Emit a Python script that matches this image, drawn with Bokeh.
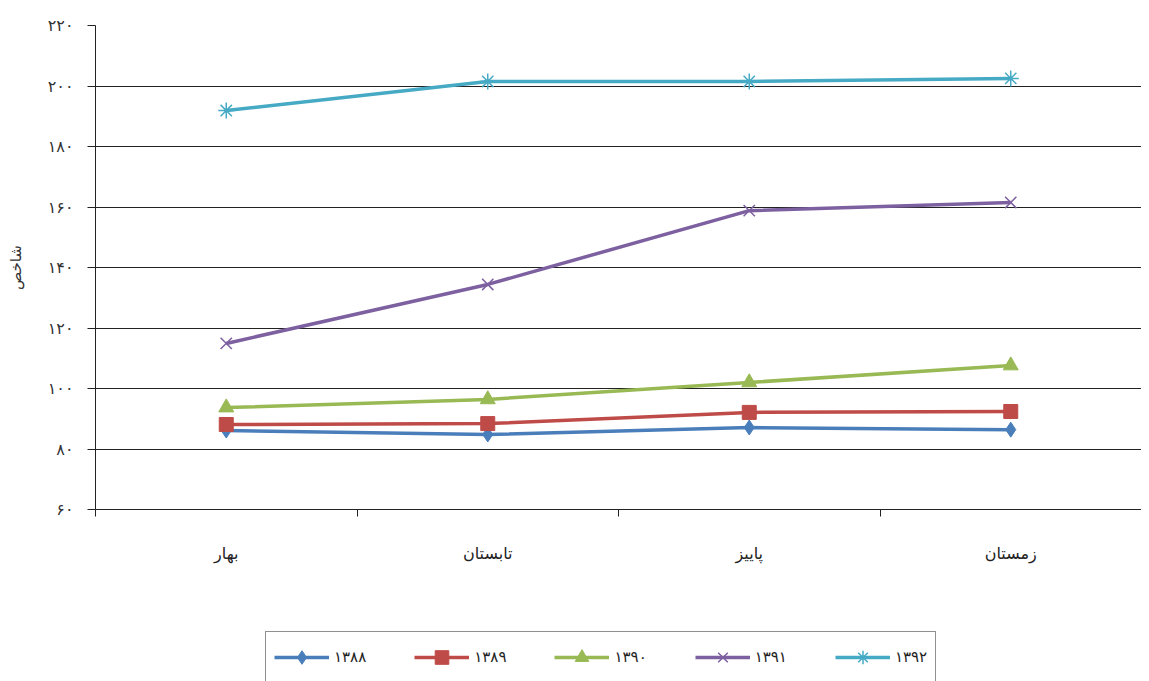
from bokeh.plotting import figure
from bokeh.layouts import column
from bokeh.models import Range1d, FixedTicker, Legend, LegendItem
from bokeh.embed import file_html
from bokeh.resources import INLINE

seasons = ["بهار", "تابستان", "پاییز", "زمستان"]
years = ["۱۳۸۸", "۱۳۸۹", "۱۳۹۰", "۱۳۹۱", "۱۳۹۲"]
v1388 = [86.1, 84.8, 87.1, 86.4]
v1389 = [88.1, 88.4, 92.1, 92.4]
v1390 = [93.7, 96.4, 102.0, 107.6]
v1391 = [114.9, 134.4, 158.8, 161.5]
v1392 = [191.9, 201.5, 201.5, 202.5]
y_ticks = [60, 80, 100, 120, 140, 160, 180, 200, 220]
y_tick_labels = ["۶۰", "۸۰", "۱۰۰", "۱۲۰", "۱۴۰", "۱۶۰", "۱۸۰", "۲۰۰", "۲۲۰"]
y_label = "شاخص"

series = [v1388, v1389, v1390, v1391, v1392]
colors = ["#4A7EBB", "#BE4B48", "#98B954", "#7D60A0", "#46AAC5"]
markers = ["diamond", "square", "triangle", "x", "asterisk"]
msizes = [15, 14, 15, 16, 16]
mwidths = [1, 1, 1, 1.5, 1.5]

FONT = "DejaVu Sans"
xs = [i + 0.5 for i in range(len(seasons))]

p = figure(width=1141, height=600, output_backend="svg", toolbar_location=None,
           x_range=Range1d(0, 4), y_range=Range1d(60, 220),
           min_border_left=95, min_border_top=25, min_border_right=0,
           min_border_bottom=91)
p.outline_line_color = None
p.background_fill_color = "white"
p.border_fill_color = "white"

# y axis
p.yaxis.ticker = FixedTicker(ticks=y_ticks)
p.yaxis.major_label_overrides = {t: l for t, l in zip(y_ticks, y_tick_labels)}
p.yaxis.major_tick_in = 0
p.yaxis.major_tick_out = 8
p.yaxis.minor_tick_out = 0
p.yaxis.minor_tick_in = 0
p.yaxis.axis_line_color = "#222222"
p.yaxis.major_tick_line_color = "#222222"
p.yaxis.major_label_text_font = FONT
p.yaxis.major_label_text_font_size = "16px"
p.yaxis.major_label_text_color = "#333333"
p.yaxis.major_label_standoff = 14
p.yaxis.axis_label = y_label
p.yaxis.axis_label_text_font = FONT
p.yaxis.axis_label_text_font_size = "15px"
p.yaxis.axis_label_text_font_style = "normal"
p.yaxis.axis_label_text_color = "#333333"
p.yaxis.axis_label_standoff = 20

# x axis: labels at centers, tick marks at boundaries
p.xaxis.ticker = FixedTicker(ticks=xs, minor_ticks=[0, 1, 2, 3, 4])
p.xaxis.major_label_overrides = {x: s for x, s in zip(xs, seasons)}
p.xaxis.major_tick_in = 0
p.xaxis.major_tick_out = 0
p.xaxis.minor_tick_in = 0
p.xaxis.minor_tick_out = 7
p.xaxis.minor_tick_line_color = "#222222"
p.xaxis.axis_line_color = "#222222"
p.xaxis.major_label_text_font = FONT
p.xaxis.major_label_text_font_size = "16px"
p.xaxis.major_label_text_color = "#222222"
p.xaxis.major_label_standoff = 27

p.xgrid.visible = False
p.ygrid.ticker = FixedTicker(ticks=y_ticks)
p.ygrid.grid_line_color = "#222222"
p.ygrid.grid_line_width = 1.2

# legend figure below the chart (its copies of the series lie outside its view)
q = figure(width=1141, height=81, output_backend="svg", toolbar_location=None,
           x_axis_type=None, y_axis_type=None,
           x_range=Range1d(0, 4), y_range=Range1d(1000, 1001),
           min_border_left=0, min_border_right=0, min_border_top=0, min_border_bottom=0)
q.outline_line_color = None
q.xgrid.visible = False
q.ygrid.visible = False

items = []
for name, vals, c, m, s, w in zip(years, series, colors, markers, msizes, mwidths):
    p.line(xs, vals, line_color=c, line_width=3.5)
    p.scatter(xs, vals, marker=m, size=s, fill_color=c, line_color=c, line_width=w)
    l1 = q.line(xs, vals, line_color=c, line_width=3.5)
    l2 = q.scatter(xs, vals, marker=m, size=s, fill_color=c, line_color=c, line_width=w)
    items.append(LegendItem(label=name, renderers=[l1, l2]))

legend = Legend(items=items, orientation="horizontal", location=(170, -2),
                border_line_color="#222222", border_line_width=1.2,
                label_text_font=FONT, label_text_font_size="15px",
                label_text_color="#222222", glyph_width=55, glyph_height=34,
                spacing=48, padding=8, label_standoff=5, margin=0,
                background_fill_alpha=1.0)
q.add_layout(legend, "center")

layout = column(p, q, spacing=0)
open("out.html", "w").write(file_html(layout, INLINE))
